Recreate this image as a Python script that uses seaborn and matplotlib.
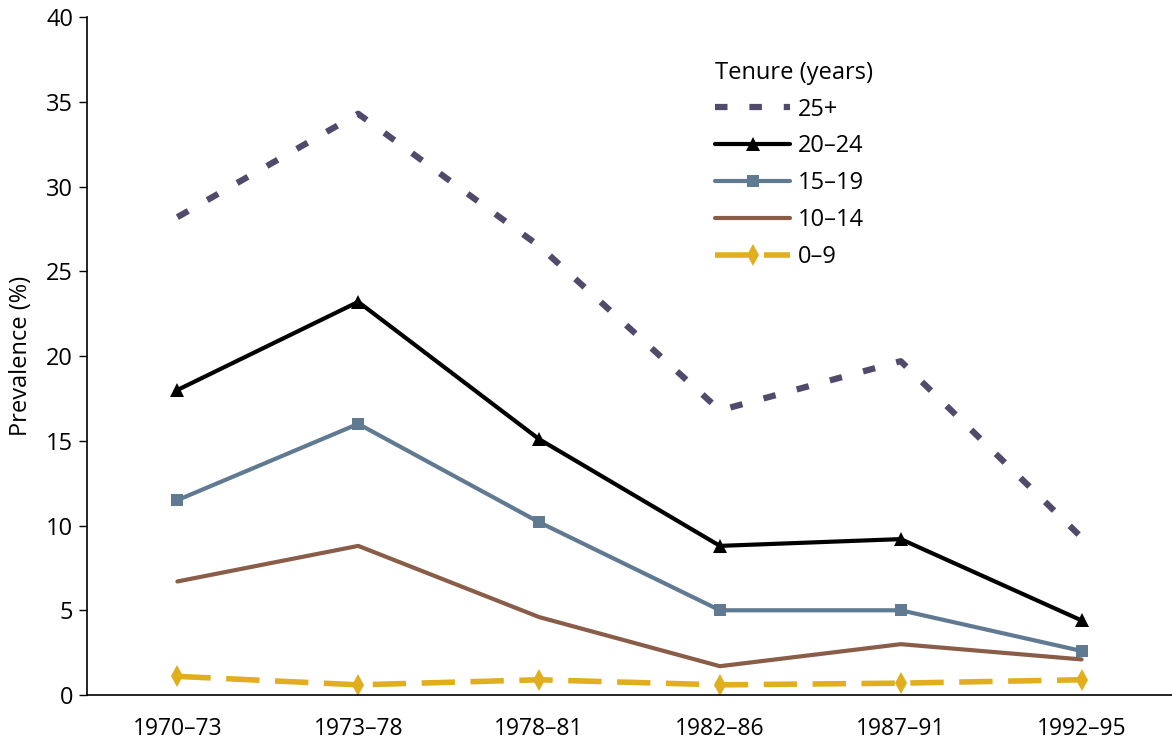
import numpy as np
import pandas as pd
import seaborn as sns
import matplotlib.pyplot as plt

periods = ['1970–73', '1973–78', '1978–81', '1982–86', '1987–91', '1992–95']

t25 = [28.2, 34.3, 26.5, 16.8, 19.7, 9.3]
t20 = [18.0, 23.2, 15.1, 8.8, 9.2, 4.4]
t15 = [11.5, 16.0, 10.2, 5.0, 5.0, 2.6]
t10 = [6.7, 8.8, 4.6, 1.7, 3.0, 2.1]
t0 = [1.1, 0.6, 0.9, 0.6, 0.7, 0.9]

labels = ['25+', '20–24', '15–19', '10–14', '0–9']
series = [t25, t20, t15, t10, t0]

sns.set_style('white')
plt.rcParams['font.family'] = ['Open Sans', 'DejaVu Sans']
plt.rcParams['text.color'] = 'black'

styles = [
    dict(color='#524a6a', lw=4.5, dashes=(2, 3.5), marker=None),
    dict(color='black', lw=3, dashes=None, marker='^', ms=10),
    dict(color='#5f7a91', lw=3, dashes=None, marker='s', ms=8),
    dict(color='#8a5d48', lw=3, dashes=None, marker=None),
    dict(color='#e0ae1e', lw=4, dashes=(6, 2.8), marker='d', ms=11),
]

fig = plt.figure(figsize=(11.72, 7.47), dpi=100)
ax = fig.add_axes([0.0742, 0.0696, 0.9258, 0.9074])

x = np.arange(len(periods))
for lab, vals, st in zip(labels, series, styles):
    df = pd.DataFrame({'x': x, 'y': vals})
    kw = dict(color=st['color'], lw=st['lw'], label=lab)
    if st['marker']:
        kw.update(marker=st['marker'], markersize=st['ms'],
                  markeredgewidth=0, markerfacecolor=st['color'])
    sns.lineplot(data=df, x='x', y='y', ax=ax, **kw)
    l2d = ax.lines[-1]
    if st['dashes']:
        l2d.set_dashes(st['dashes'])

ax.set_xlim(-0.5, 5.5)
ax.set_ylim(0, 40)
ax.set_xticks(x)
ax.set_xticklabels(periods, fontsize=16.5)
ax.set_yticks(range(0, 41, 5))
ax.tick_params(axis='y', labelsize=17, length=6, direction='out', left=True,
               width=1, colors='black', pad=4)
ax.tick_params(axis='x', length=0, pad=16, colors='black')
ax.set_xlabel('')
ax.set_ylabel('Prevalence (%)', fontsize=17, color='black', labelpad=9)
sns.despine(ax=ax)
for s in ['left', 'bottom']:
    ax.spines[s].set_color('black')
    ax.spines[s].set_linewidth(1.2)

leg = ax.legend(title='Tenure (years)', loc='upper left',
                bbox_to_anchor=(0.570, 0.950), frameon=False, borderaxespad=0,
                fontsize=17, title_fontsize=17, handlelength=3.2,
                handletextpad=0.3, labelspacing=0.55)
leg._legend_box.align = 'left'

fig.savefig('out.png', dpi=100)
